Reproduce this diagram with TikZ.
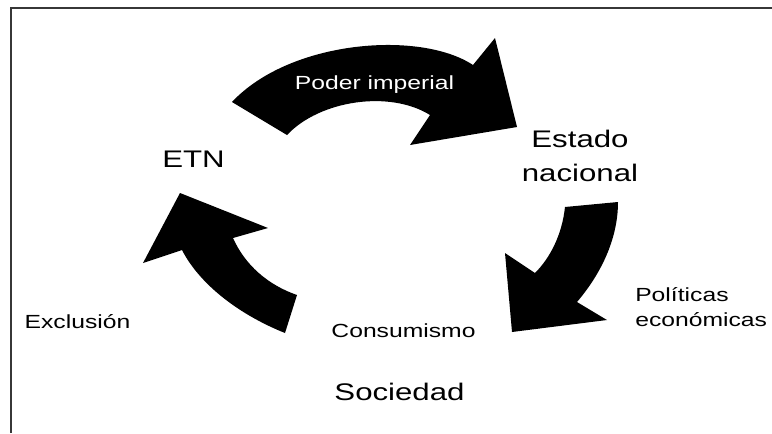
\documentclass[tikz,border=0pt]{standalone}
\usepackage{fontspec}
\setmainfont[FakeStretch=1.3]{Liberation Sans}
\usetikzlibrary{positioning}
\definecolor{framegray}{RGB}{55,55,55}

\begin{document}
\begin{tikzpicture}[x=0.75pt,y=-0.75pt,
  smalltext/.style={font=\fontsize{14.25}{18.75}\selectfont,inner sep=0pt},
  bigtext/.style={font=\fontsize{18}{25.5}\selectfont,inner sep=0pt}]
  \useasboundingbox (0,0) rectangle (772,433);
  \draw[framegray,line width=1.2pt] (11,433) |- (772,8); % frame

  \fill (232,102) .. controls (290,40) and (420,30) .. (473,65) -- (495,38) -- (517,127) -- (410,145) -- (430,115) .. controls (390,90) and (320,100) .. (287,135) -- cycle; % top arrow
  \fill (618,202) -- (565,207) .. controls (562,235) and (550,258) .. (535,273) -- (505,253) -- (512,332) -- (607,320) -- (577,302) .. controls (600,275) and (618,240) .. (618,202) -- cycle; % right arrow
  \fill (180,193) -- (268,228) -- (233,238) .. controls (245,265) and (268,285) .. (297,295) -- (285,333) .. controls (240,315) and (200,285) .. (182,250) -- (143,263) -- cycle; % left arrow

  \node[smalltext,white,anchor=base] (poder) at (374.5,89) {Poder imperial};
  \node[bigtext,anchor=base] (etn) at (193.5,167) {ETN};
  \node[bigtext,align=center] (estado) at (580,156) {Estado\\nacional};
  \node[smalltext,align=left,anchor=west] (politicas) at (635,307.5) {Políticas\\económicas};
  \node[smalltext,anchor=base] (exclusion) at (77.5,328) {Exclusión};
  \node[smalltext,anchor=base] (consumismo) at (403.5,337) {Consumismo};
  \node[bigtext,anchor=base] (sociedad) at (399.5,400) {Sociedad};
\end{tikzpicture}
\end{document}
